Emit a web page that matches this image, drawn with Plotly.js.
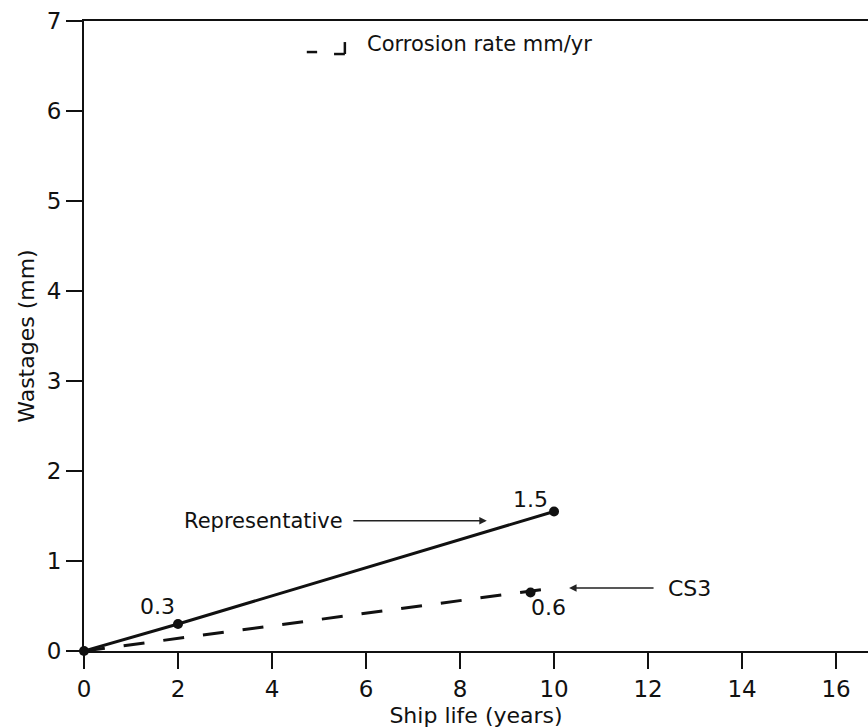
<!DOCTYPE html>
<html>
<head>
<meta charset="utf-8">
<script src="https://cdn.plot.ly/plotly-3.0.1.min.js"></script>
<style>html,body{margin:0;padding:0;background:#fff;}#chart{width:868px;height:728px;}</style>
</head>
<body>
<div id="chart"></div>
<script>
// Data
var repYears = [0, 2, 10];
var repWastage = [0, 0.3, 1.55];
var cs3LineYears = [0, 10];
var cs3LineWastage = [0, 0.70];
var cs3PointYears = [9.5];
var cs3PointWastage = [0.65];
var xTicks = [0, 2, 4, 6, 8, 10, 12, 14, 16];
var yTicks = [0, 1, 2, 3, 4, 5, 6, 7];
var pointLabels = ['0.3', '1.5', '0.6'];

var INK = '#111';
var FONT = 'DejaVu Sans, Liberation Sans, Arial, sans-serif';

var traces = [
  {
    x: cs3LineYears, y: cs3LineWastage, type: 'scatter', mode: 'lines',
    line: {color: INK, width: 3, dash: '21px,19px'},
    cliponaxis: false, showlegend: false, hoverinfo: 'skip'
  },
  {
    x: cs3PointYears, y: cs3PointWastage, type: 'scatter', mode: 'markers',
    marker: {color: INK, size: 10, line: {width: 0}},
    cliponaxis: false, showlegend: false, hoverinfo: 'skip'
  },
  {
    x: repYears, y: repWastage, type: 'scatter', mode: 'lines+markers',
    line: {color: INK, width: 3},
    marker: {color: INK, size: 10, line: {width: 0}},
    cliponaxis: false, showlegend: false, hoverinfo: 'skip'
  }
];

var txt = function (x, y, text, opts) {
  return Object.assign({
    x: x, y: y, xref: 'x', yref: 'y', text: text, showarrow: false,
    font: {family: FONT, size: 21, color: INK}
  }, opts || {});
};

var annotations = [
  txt(1.57, 0.49, pointLabels[0], {font: {family: FONT, size: 22, color: INK}}),
  txt(9.49, 1.68, pointLabels[1], {font: {family: FONT, size: 22, color: INK}}),
  txt(9.89, 0.48, pointLabels[2], {font: {family: FONT, size: 22, color: INK}}),
  txt(3.82, 1.447, 'Representative'),
  txt(12.88, 0.69, 'CS3', {font: {family: FONT, size: 22, color: INK}}),
  txt(5.98, 6.744, 'Corrosion rate mm/yr', {xanchor: 'left'}),
  {x: 8.57, y: 1.447, xref: 'x', yref: 'y', text: '', showarrow: true,
   ax: -135, ay: 0, arrowhead: 2, arrowsize: 1, arrowwidth: 1.5, arrowcolor: '#222'},
  {x: 10.32, y: 0.70, xref: 'x', yref: 'y', text: '', showarrow: true,
   ax: 86, ay: 0, arrowhead: 2, arrowsize: 1, arrowwidth: 1.5, arrowcolor: '#222'}
];

var shapes = [
  {type: 'line', xref: 'x', yref: 'y', x0: 4.74, x1: 4.96, y0: 6.655, y1: 6.655, line: {color: INK, width: 2.5}},
  {type: 'line', xref: 'x', yref: 'y', x0: 5.55, x1: 5.55, y0: 6.766, y1: 6.633, line: {color: INK, width: 2.5}},
  {type: 'line', xref: 'x', yref: 'y', x0: 5.32, x1: 5.55, y0: 6.633, y1: 6.633, line: {color: INK, width: 2.5}}
];

var layout = {
  width: 868, height: 728,
  margin: {l: 84, r: 0, t: 21, b: 77},
  paper_bgcolor: '#fff', plot_bgcolor: '#fff',
  font: {family: FONT, size: 21, color: INK},
  xaxis: {
    range: [0, 16.68], tickvals: xTicks, ticktext: xTicks.map(String),
    showgrid: false, zeroline: false,
    showline: true, mirror: true, linecolor: INK, linewidth: 2,
    ticks: 'outside', ticklen: 16, tickwidth: 2, tickcolor: INK,
    tickfont: {family: FONT, size: 23, color: INK},
    title: {text: 'Ship life (years)', standoff: 8, font: {family: FONT, size: 22, color: INK}}
  },
  yaxis: {
    range: [0, 7], tickvals: yTicks, ticktext: yTicks.map(String),
    showgrid: false, zeroline: false,
    showline: true, mirror: false, linecolor: INK, linewidth: 2,
    ticks: 'outside', ticklen: 16, tickwidth: 2, tickcolor: INK,
    tickfont: {family: FONT, size: 23, color: INK},
    title: {text: 'Wastages (mm)', standoff: 6, font: {family: FONT, size: 22, color: INK}}
  },
  annotations: annotations,
  shapes: shapes,
  showlegend: false
};

Plotly.newPlot('chart', traces, layout, {staticPlot: true, displayModeBar: false});
</script>
</body>
</html>
